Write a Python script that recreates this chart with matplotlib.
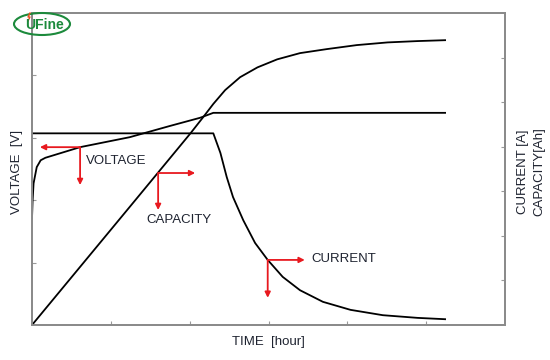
import matplotlib.pyplot as plt
from matplotlib.patches import Ellipse
from matplotlib.lines import Line2D

plt.rcParams["font.family"] = ["Liberation Sans", "DejaVu Sans"]

# time in hours, voltage on left axis (0..5), current / capacity on right axis (0..7)
volt_t = [0.0, 0.008, 0.02, 0.06, 0.11, 0.17, 0.61, 1.24, 1.75, 2.13, 2.30, 5.24]
volt_v = [1.71, 2.00, 2.27, 2.53, 2.64, 2.68, 2.85, 3.01, 3.19, 3.32, 3.40, 3.40]

curr_t = [0.0, 2.30, 2.39, 2.47, 2.55, 2.68, 2.83, 2.99, 3.18, 3.40, 3.69,
          4.04, 4.45, 4.89, 5.24]
curr_a = [4.30, 4.30, 3.86, 3.32, 2.87, 2.35, 1.84, 1.46, 1.08, 0.78, 0.52,
          0.34, 0.22, 0.16, 0.13]

cap_t = [0.0, 1.31, 2.01, 2.09, 2.17, 2.30, 2.45, 2.64, 2.86, 3.11, 3.40,
         3.74, 4.12, 4.51, 4.89, 5.24]
cap_ah = [0.0, 2.80, 4.30, 4.48, 4.66, 4.96, 5.27, 5.56, 5.78, 5.96, 6.10,
          6.19, 6.28, 6.34, 6.37, 6.39]

# annotation arrows: corner, horizontal end, vertical end, label, label pos
labels = ["VOLTAGE", "CAPACITY", "CURRENT"]
corners = [(0.61, 3.99), (1.60, 3.41), (2.99, 1.46)]
h_ends = [0.10, 2.07, 3.46]
v_ends = [3.14, 2.58, 0.61]
label_pos = [(0.69, 3.68), (1.45, 2.35), (3.54, 1.48)]

fig = plt.figure(figsize=(5.5, 3.6), dpi=100)
ax = fig.add_axes([32 / 550, 35 / 360, 473 / 550, 312 / 360])
ax2 = ax.twinx()

ax.set_xlim(0, 6.0)
ax.set_ylim(0, 5)
ax2.set_ylim(0, 7)

ax.plot(volt_t, volt_v, color="black", lw=1.3)
ax2.plot(curr_t, curr_a, color="black", lw=1.3)
ax2.plot(cap_t, cap_ah, color="black", lw=1.3)

ax.set_xticks([1, 2, 3, 4, 5])
ax.set_yticks([1, 2, 3, 4])
ax2.set_yticks([1, 2, 3, 4, 5, 6])
for a in (ax, ax2):
    a.tick_params(direction="in", length=3, width=0.8, color="#999999",
                  labelbottom=False, labelleft=False, labelright=False)
    for s in a.spines.values():
        s.set_color("#8a8a8a")
        s.set_linewidth(1.3)

arrow = dict(arrowstyle="-|>", color="#e8191f", lw=1.3, mutation_scale=8,
             shrinkA=0, shrinkB=0)
for lab, c, hx, vy, p in zip(labels, corners, h_ends, v_ends, label_pos):
    ax2.annotate("", xy=(hx, c[1]), xytext=c, arrowprops=arrow)
    ax2.annotate("", xy=(c[0], vy), xytext=c, arrowprops=arrow)
    ax2.text(p[0], p[1], lab, fontsize=9.5, color="#1e2330", va="center", ha="left")

fig.text(17 / 550, 1 - 172 / 360, "VOLTAGE  [V]", rotation=90, fontsize=9.5,
         color="#1e2330", ha="center", va="center")
fig.text(268 / 550, 1 - 342 / 360, "TIME  [hour]", fontsize=9.5,
         color="#1e2330", ha="center", va="center")
fig.text(523 / 550, 1 - 172 / 360, "CURRENT [A]", rotation=90, fontsize=9.5,
         color="#1e2330", ha="center", va="center")
fig.text(539 / 550, 1 - 172 / 360, "CAPACITY[Ah]", rotation=90, fontsize=9.5,
         color="#1e2330", ha="center", va="center")

# logo
fig.patches.append(Ellipse((42 / 550, 1 - 24 / 360), 56 / 550, 22 / 360,
                           transform=fig.transFigure, fill=False,
                           edgecolor="#1c8a3c", lw=1.5))
fig.text(45 / 550, 1 - 25 / 360, "UFine", fontsize=10, fontweight="bold",
         color="#1c8a3c", ha="center", va="center")
fig.add_artist(Line2D([30 / 550, 28 / 550, 30 / 550, 28 / 550],
                      [1 - 13 / 360, 1 - 17 / 360, 1 - 17 / 360, 1 - 21 / 360],
                      transform=fig.transFigure, color="#e8511f", lw=1.0))

fig.savefig("out.png", dpi=100)
